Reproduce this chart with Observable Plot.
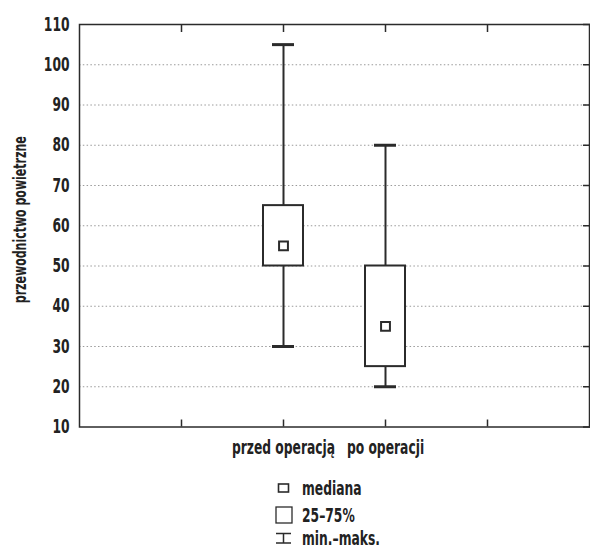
<!DOCTYPE html>
<html><head><meta charset="utf-8">
<script src="https://cdn.jsdelivr.net/npm/d3@7"></script>
<script src="https://cdn.jsdelivr.net/npm/@observablehq/plot@0.6"></script>
<style>
body{margin:0;background:#fff;font-family:"DejaVu Sans Condensed","DejaVu Sans",sans-serif;color:#222;}
#chart{position:absolute;left:0;top:0;}
#legend{position:absolute;left:0;top:0;font-size:19px;font-weight:bold;}
#legend .row{position:absolute;left:271px;display:flex;align-items:center;height:24px;white-space:nowrap;}
#legend svg{width:26px;height:24px;margin-right:5px;flex:none;}
#legend span{display:inline-block;transform:scaleX(0.72);transform-origin:left center;}
</style></head><body><div id="chart"></div><div id="legend"></div>
<script>
const categories = ["przed operacją", "po operacji"];
const positions = [2, 3];
const minValues = [30, 20];
const q1Values = [50, 25];
const medianValues = [55, 35];
const q3Values = [65, 50];
const maxValues = [105, 80];
const yTicks = [10, 20, 30, 40, 50, 60, 70, 80, 90, 100, 110];
const gridValues = [20, 30, 40, 50, 60, 70, 80, 90, 100];
const xTickPositions = [1, 2, 3, 4];
const yLabel = "przewodnictwo powietrzne";
const legendLabels = ["mediana", "25–75%", "min.–maks."];

const data = categories.map((c, i) => ({
  category: c, pos: positions[i], min: minValues[i], q1: q1Values[i],
  median: medianValues[i], q3: q3Values[i], max: maxValues[i]
}));

const font = '"DejaVu Sans Condensed","DejaVu Sans",sans-serif';
const ink = "#2b2b2b";

const chart = Plot.plot({
  width: 590, height: 460,
  marginLeft: 79, marginRight: 1, marginTop: 24, marginBottom: 33.5,
  style: {fontFamily: font, fontSize: "19px", fontWeight: "bold", color: "#222", background: "white", overflow: "visible"},
  x: {domain: [0, 5]},
  y: {domain: [10, 110]},
  marks: [
    Plot.ruleY(gridValues, {stroke: "#9a9a9a", strokeDasharray: "1.5,2.3", strokeWidth: 1}),
    Plot.frame({stroke: ink, strokeWidth: 1.5}),
    Plot.axisY(yTicks, {anchor: "left", tickSize: 0, tickPadding: 10, fontSize: 19, label: null}),
    Plot.axisY(yTicks, {anchor: "right", tickSize: -7, tickFormat: () => "", label: null, stroke: ink, strokeWidth: 1.5}),
    Plot.axisX(xTickPositions, {anchor: "bottom", tickSize: -7, tickFormat: () => "", label: null, stroke: ink, strokeWidth: 1.5}),
    Plot.axisX(xTickPositions, {anchor: "top", tickSize: -7, tickFormat: () => "", label: null, stroke: ink, strokeWidth: 1.5}),
    Plot.axisX(positions, {anchor: "bottom", tickSize: 0, tickPadding: 13, fontSize: 19,
      tickFormat: p => categories[positions.indexOf(p)], label: null}),
    Plot.text([yLabel], {frameAnchor: "left", textAnchor: "middle", rotate: -90, dx: -59, dy: -6, fontSize: 17, fontWeight: "bold", fill: "#222"}),
    Plot.ruleX(data, {x: "pos", y1: "min", y2: "max", stroke: ink, strokeWidth: 2}),
    Plot.ruleY(data, {y: "min", x1: "pos", x2: "pos", insetLeft: -11, insetRight: -11, stroke: ink, strokeWidth: 3}),
    Plot.ruleY(data, {y: "max", x1: "pos", x2: "pos", insetLeft: -11, insetRight: -11, stroke: ink, strokeWidth: 3}),
    Plot.rect(data, {x1: "pos", x2: "pos", y1: "q1", y2: "q3", insetLeft: -20, insetRight: -20, fill: "white", stroke: ink, strokeWidth: 2}),
    Plot.dot(data, {x: "pos", y: "median", symbol: "square", r: 5, fill: "white", stroke: ink, strokeWidth: 2})
  ]
});
document.getElementById("chart").appendChild(chart);

// condense glyphs along the text direction (narrow typeface look), keeping each text's anchor point
const squeeze = 0.72;
chart.querySelectorAll("text").forEach(t => {
  if (!t.textContent) return;
  const b = t.getBBox();
  if (!b.width) return;
  const anchor = getComputedStyle(t).textAnchor;
  const ax = anchor === "middle" ? b.x + b.width / 2 : anchor === "end" ? b.x + b.width : b.x;
  const prev = t.getAttribute("transform") || "";
  t.setAttribute("transform", `${prev} translate(${ax},0) scale(${squeeze},1) translate(${-ax},0)`.trim());
});

const symbols = [
  '<rect x="7.5" y="8" width="10" height="8" fill="white" stroke="#2b2b2b" stroke-width="1.6"/>',
  '<rect x="5" y="4" width="16" height="16" fill="white" stroke="#2b2b2b" stroke-width="1.3"/>',
  '<path d="M5,7.5H20M12.5,7.5V17M5,17H20" fill="none" stroke="#2b2b2b" stroke-width="1.5"/>'
];
const rowCenters = [488, 515, 538];
const legend = document.getElementById("legend");
legendLabels.forEach((label, i) => {
  const row = document.createElement("div");
  row.className = "row";
  row.style.top = (rowCenters[i] - 12) + "px";
  row.innerHTML = `<svg viewBox="0 0 26 24">${symbols[i]}</svg><span>${label}</span>`;
  legend.appendChild(row);
});
</script>
</body></html>
